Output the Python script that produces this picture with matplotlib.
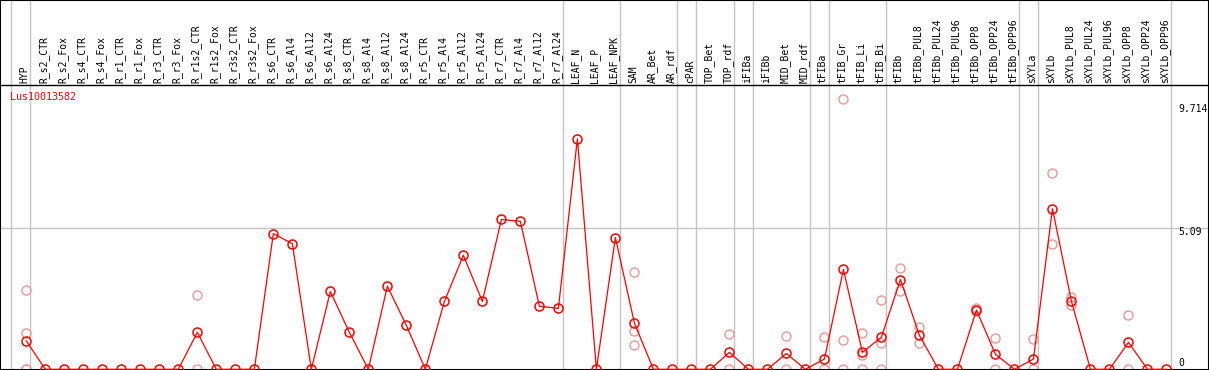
import matplotlib
matplotlib.use('Agg')
import matplotlib.pyplot as plt
import matplotlib.transforms as mtransforms

plt.rcParams['font.family'] = ['DejaVu Sans Mono', 'DejaVu Sans']

GENE = 'Lus10013582'

SAMPLES = [
    'HYP',
    'R_s2_CTR', 'R_s2_Fox', 'R_s4_CTR', 'R_s4_Fox', 'R_r1_CTR', 'R_r1_Fox',
    'R_r3_CTR', 'R_r3_Fox', 'R_r1s2_CTR', 'R_r1s2_Fox', 'R_r3s2_CTR', 'R_r3s2_Fox',
    'R_s6_CTR', 'R_s6_Al4', 'R_s6_Al12', 'R_s6_Al24',
    'R_s8_CTR', 'R_s8_Al4', 'R_s8_Al12', 'R_s8_Al24',
    'R_r5_CTR', 'R_r5_Al4', 'R_r5_Al12', 'R_r5_Al24',
    'R_r7_CTR', 'R_r7_Al4', 'R_r7_Al12', 'R_r7_Al24',
    'LEAF_N', 'LEAF_P', 'LEAF_NPK',
    'SAM', 'AR_Bet', 'AR_rdf',
    'cPAR',
    'TOP_Bet', 'TOP_rdf',
    'iFIBa',
    'iFIBb', 'MID_Bet', 'MID_rdf',
    'tFIBa',
    'tFIB_Gr', 'tFIB_Li', 'tFIB_Bi',
    'tFIBb', 'tFIBb_PUL8', 'tFIBb_PUL24', 'tFIBb_PUL96', 'tFIBb_OPP8', 'tFIBb_OPP24', 'tFIBb_OPP96',
    'sXYLa',
    'sXYLb', 'sXYLb_PUL8', 'sXYLb_PUL24', 'sXYLb_PUL96', 'sXYLb_OPP8', 'sXYLb_OPP24', 'sXYLb_OPP96',
]

# mean expression per sample
MEANS = [
    1.02,
    0, 0, 0, 0, 0, 0, 0, 0, 1.33, 0, 0, 0,
    4.88, 4.52, 0, 2.80,
    1.33, 0, 2.99, 1.58,
    0, 2.44, 4.10, 2.44,
    5.39, 5.32, 2.27, 2.19,
    8.29, 0, 4.74,
    1.66, 0, 0,
    0,
    0, 0.61,
    0,
    0, 0.57, 0,
    0.37,
    3.59, 0.61, 1.16,
    3.23, 1.22, 0, 0, 2.13, 0.54, 0,
    0.37,
    5.78, 2.44, 0, 0, 0.97, 0, 0,
]

# individual replicates (faint circles)
REPLICATES = {
    0: [2.84, 1.29, 0, 0],
    9: [2.69, 0],
    32: [3.50, 1.36, 0.86],
    37: [1.26, 0],
    40: [1.18, 0],
    42: [1.15, 0],
    43: [9.714, 1.04, 0],
    44: [1.29, 0.51, 0],
    45: [2.51, 0.96, 0],
    46: [3.63, 2.82],
    47: [1.52, 0.96],
    50: [2.21, 2.10],
    51: [1.11, 0],
    53: [1.09, 0],
    54: [7.07, 4.49],
    55: [2.61, 2.33],
    58: [1.97, 0],
}

# last sample index of each tissue group (separator drawn after it)
GROUP_ENDS = [-1, 0, 28, 31, 34, 35, 37, 38, 41, 42, 45, 52, 53, 60]
Y_TICKS = [9.714, 5.09, 0]

W, H = 1209, 370
X0, DX = 26.3, 19.003     # pixel of first column, column pitch
Y0, DY = 369.3, 27.8      # pixel of zero, pixels per unit

fig = plt.figure(figsize=(W / 100, H / 100), dpi=100)
ax = fig.add_axes([0, 0, 1, 1])
ax.set_xlim(-X0 / DX, (W - X0) / DX)
ax.set_ylim(-(H - Y0) / DY, Y0 / DY)
ax.set_xticks([])
ax.set_yticks([])
for s in ax.spines.values():
    s.set_color('black')
    s.set_linewidth(1.5)

grid_c = '#c4c4c4'
for g in GROUP_ENDS:
    ax.axvline(g + 0.22, color=grid_c, lw=1.0, zorder=1)
ax.axhline(Y_TICKS[1], color=grid_c, lw=1.0, zorder=1)

# header separator
ax.axhline((Y0 - 85) / DY, color='black', lw=1.0, zorder=3)

# replicates
rx, ry = [], []
for i, vals in REPLICATES.items():
    for v in vals:
        rx.append(i)
        ry.append(v)
ax.plot(rx, ry, linestyle='none', marker='o', ms=6.5, mfc='none',
        mec='#e89a9a', mew=1.0, zorder=2)

# mean line
ax.plot(range(len(SAMPLES)), MEANS, color='#ff0000', lw=0.9, marker='o',
        ms=6.5, mfc='none', mec='#ff0000', mew=1.1, zorder=3)

# sample labels in the header
trans = mtransforms.blended_transform_factory(ax.transData, ax.transAxes)
for i, name in enumerate(SAMPLES):
    ax.text(i - 0.08, 1 - 83 / H, name, rotation=90, ha='center', va='bottom',
            fontsize=7, color='black', transform=trans)

ax.text(10 / W, 1 - 97 / H, GENE, ha='left', va='center', fontsize=7.2,
        color='#ff0000', transform=ax.transAxes)

# value labels at the right
tr_r = mtransforms.blended_transform_factory(ax.transAxes, ax.transData)
offs = [-13.0, -7.4, 3.3]
for v, o in zip(Y_TICKS, offs):
    lab = ('%g' % v)
    ax.text(1178 / W, v + o / DY, lab, ha='left', va='baseline', fontsize=7,
            color='black', transform=tr_r)

fig.savefig('out.png', dpi=100)
